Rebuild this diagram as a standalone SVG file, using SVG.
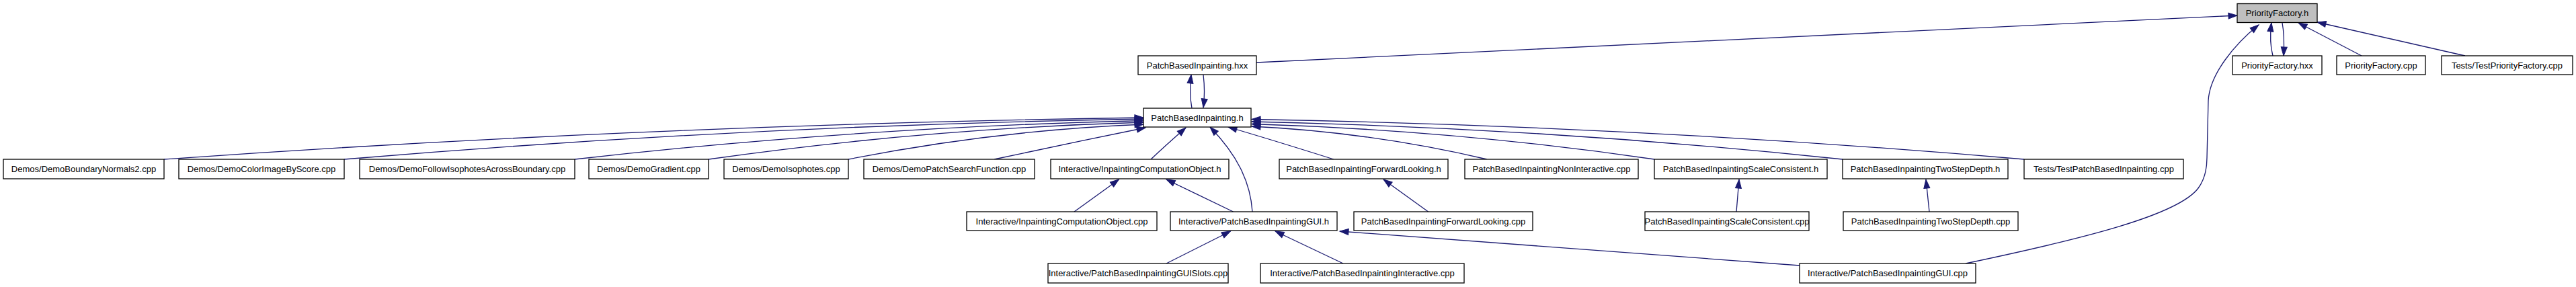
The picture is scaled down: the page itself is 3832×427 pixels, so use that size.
<svg xmlns="http://www.w3.org/2000/svg" width="3832" height="427" viewBox="0 0 3832 427">
<style>
.n rect{fill:#fff;stroke:#000;stroke-width:1.3}
.n.root rect{fill:#bfbfbf}
.n text{font-family:"Liberation Sans",Arial,sans-serif;font-size:13px;text-anchor:middle;fill:#000}
.e path{fill:none;stroke:#191970;stroke-width:1.3;marker-end:url(#ah)}
</style>
<defs>
<marker id="ah" markerUnits="userSpaceOnUse" markerWidth="14" markerHeight="10" refX="13" refY="4.5" orient="auto" overflow="visible">
<path d="M0,0 L13,4.5 L0,9 z" fill="#191970" stroke="#191970" stroke-width="1"/>
</marker>
</defs>
<rect width="3832" height="427" fill="#fff"/>
<g id="edges" class="e">
<path d="M1869,93 L3328,23"/>
<path d="M1773,161 C1770,145 1770,128 1772,111"/>
<path d="M1790,111 C1792,128 1792,145 1790,160"/>
<path d="M3381,83 C3377,68 3377,50 3379,34"/>
<path d="M3395,34 C3398,50 3398,66 3397,83"/>
<path d="M3513,83 L3419,34"/>
<path d="M3667,83 L3447,33"/>
<path d="M2924,392 C3100,355 3240,320 3270,280 C3281,265 3283,250 3283,235 L3285,150 C3287,110 3325,65 3360,37"/>
<path d="M244,237 C681,206 1191,182.4 1701,175"/>
<path d="M512,237 C869,207 1285,184 1701,177"/>
<path d="M855,237 C1109,208 1405,186.4 1701,179.5"/>
<path d="M1054,237 C1248,209.5 1475,188.6 1701,182"/>
<path d="M1262,237 C1394,211 1547,191.2 1701,185"/>
<path d="M1479,237 C1550,222 1630,205 1704,190"/>
<path d="M1712,237 C1730,220 1748,204 1764,190"/>
<path d="M1863,315 C1860,270 1840,230 1800,189"/>
<path d="M1984,237 C1930,220 1875,203 1827,189"/>
<path d="M2212,237 C2107,212.5 1984.5,193.9 1862,188"/>
<path d="M2461,237 C2281.3,210.75 2071.7,190.8 1862,184.5"/>
<path d="M2741,237 C2477.3,209 2169.6,187.7 1862,181"/>
<path d="M3011,237 C2666.3,207.25 2264.2,184.6 1862,177.5"/>
<path d="M1598,315 L1664.5,267"/>
<path d="M1834.5,315 L1735,267"/>
<path d="M2124.6,315 L2058,267"/>
<path d="M2583,315 L2587,267"/>
<path d="M2870,315 L2865,267"/>
<path d="M1735,392 L1830.5,344"/>
<path d="M1998,392 L1897,344"/>
<path d="M2677,395 L1993,344"/>
</g>
<g id="n_PriorityFactory_h" class="n root"><rect x="3328" y="5.5" width="119" height="28"/><text x="3387.5" y="24">PriorityFactory.h</text></g>
<g id="n_PatchBasedInpainting_hxx" class="n"><rect x="1693" y="83" width="176" height="28"/><text x="1781" y="101.5">PatchBasedInpainting.hxx</text></g>
<g id="n_PriorityFactory_hxx" class="n"><rect x="3321" y="83" width="133" height="28"/><text x="3387.5" y="101.5">PriorityFactory.hxx</text></g>
<g id="n_PriorityFactory_cpp" class="n"><rect x="3476" y="83" width="132" height="28"/><text x="3542" y="101.5">PriorityFactory.cpp</text></g>
<g id="n_TestPriorityFactory_cpp" class="n"><rect x="3632" y="83" width="195" height="28"/><text x="3729.5" y="101.5">Tests/TestPriorityFactory.cpp</text></g>
<g id="n_PatchBasedInpainting_h" class="n"><rect x="1701" y="161" width="160" height="28"/><text x="1781" y="179.5">PatchBasedInpainting.h</text></g>
<g id="n_DemoBoundaryNormals2" class="n"><rect x="5" y="237" width="239" height="29"/><text x="124.5" y="256">Demos/DemoBoundaryNormals2.cpp</text></g>
<g id="n_DemoColorImageByScore" class="n"><rect x="266" y="237" width="246" height="29"/><text x="389" y="256">Demos/DemoColorImageByScore.cpp</text></g>
<g id="n_DemoFollowIsophotes" class="n"><rect x="535" y="237" width="320" height="29"/><text x="695" y="256">Demos/DemoFollowIsophotesAcrossBoundary.cpp</text></g>
<g id="n_DemoGradient" class="n"><rect x="876" y="237" width="178" height="29"/><text x="965" y="256">Demos/DemoGradient.cpp</text></g>
<g id="n_DemoIsophotes" class="n"><rect x="1077" y="237" width="185" height="29"/><text x="1169.5" y="256">Demos/DemoIsophotes.cpp</text></g>
<g id="n_DemoPatchSearchFunction" class="n"><rect x="1285" y="237" width="254" height="29"/><text x="1412" y="256">Demos/DemoPatchSearchFunction.cpp</text></g>
<g id="n_InpaintingComputationObject_h" class="n"><rect x="1563" y="237" width="265" height="29"/><text x="1695.5" y="256">Interactive/InpaintingComputationObject.h</text></g>
<g id="n_ForwardLooking_h" class="n"><rect x="1903" y="237" width="251" height="29"/><text x="2028.5" y="256">PatchBasedInpaintingForwardLooking.h</text></g>
<g id="n_NonInteractive_cpp" class="n"><rect x="2179" y="237" width="258" height="29"/><text x="2308" y="256">PatchBasedInpaintingNonInteractive.cpp</text></g>
<g id="n_ScaleConsistent_h" class="n"><rect x="2461" y="237" width="257" height="29"/><text x="2589.5" y="256">PatchBasedInpaintingScaleConsistent.h</text></g>
<g id="n_TwoStepDepth_h" class="n"><rect x="2741" y="237" width="246" height="29"/><text x="2864" y="256">PatchBasedInpaintingTwoStepDepth.h</text></g>
<g id="n_TestPatchBasedInpainting" class="n"><rect x="3011" y="237" width="237" height="29"/><text x="3129.5" y="256">Tests/TestPatchBasedInpainting.cpp</text></g>
<g id="n_InpaintingComputationObject_cpp" class="n"><rect x="1438" y="315" width="283" height="28"/><text x="1579.5" y="333.5">Interactive/InpaintingComputationObject.cpp</text></g>
<g id="n_GUI_h" class="n"><rect x="1741" y="315" width="248" height="28"/><text x="1865" y="333.5">Interactive/PatchBasedInpaintingGUI.h</text></g>
<g id="n_ForwardLooking_cpp" class="n"><rect x="2014" y="315" width="266" height="28"/><text x="2147" y="333.5">PatchBasedInpaintingForwardLooking.cpp</text></g>
<g id="n_ScaleConsistent_cpp" class="n"><rect x="2447" y="315" width="244" height="28"/><text x="2569" y="333.5">PatchBasedInpaintingScaleConsistent.cpp</text></g>
<g id="n_TwoStepDepth_cpp" class="n"><rect x="2742" y="315" width="260" height="28"/><text x="2872" y="333.5">PatchBasedInpaintingTwoStepDepth.cpp</text></g>
<g id="n_GUISlots_cpp" class="n"><rect x="1559" y="392" width="268" height="29"/><text x="1693" y="411">Interactive/PatchBasedInpaintingGUISlots.cpp</text></g>
<g id="n_Interactive_cpp" class="n"><rect x="1875" y="392" width="303" height="29"/><text x="2026.5" y="411">Interactive/PatchBasedInpaintingInteractive.cpp</text></g>
<g id="n_GUI_cpp" class="n"><rect x="2677" y="392" width="262" height="29"/><text x="2808" y="411">Interactive/PatchBasedInpaintingGUI.cpp</text></g>
</svg>
